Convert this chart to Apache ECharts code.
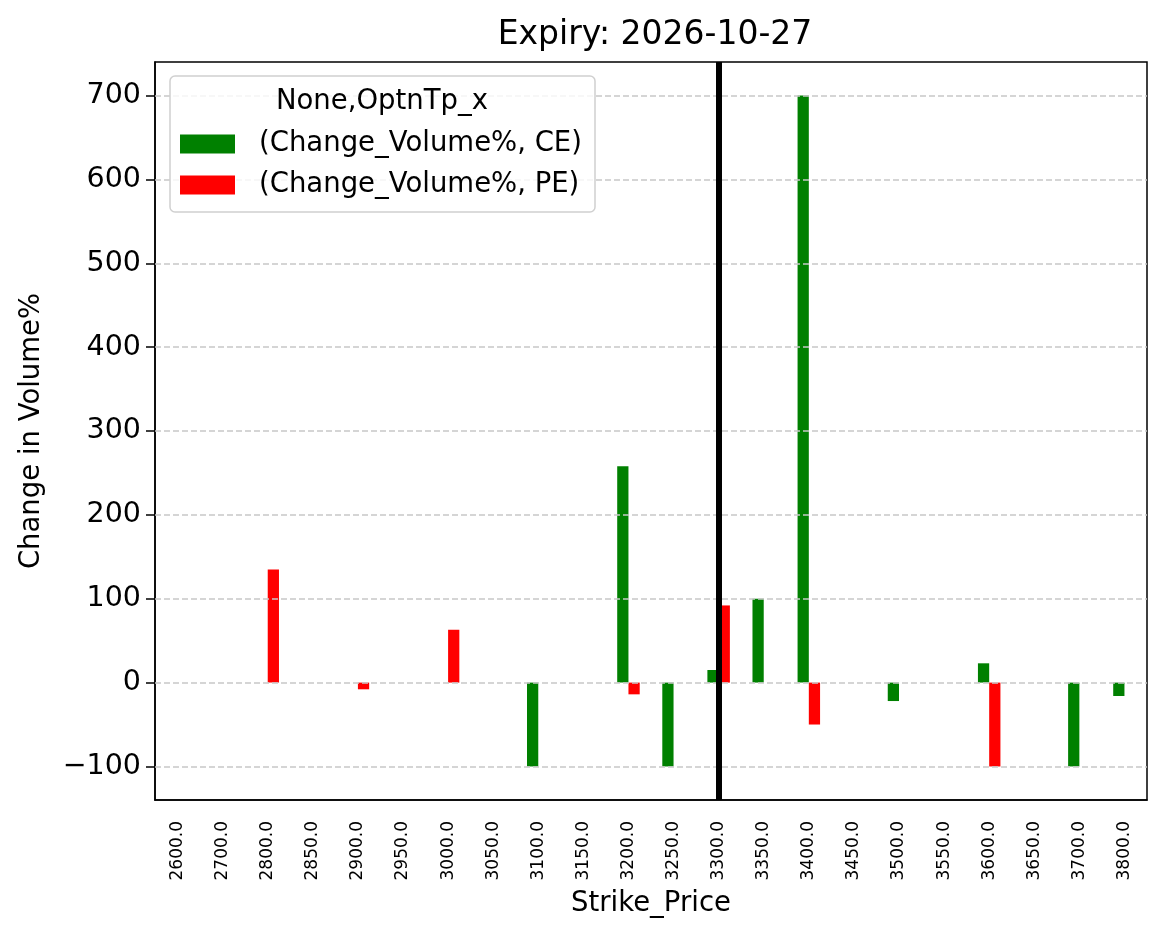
<!DOCTYPE html>
<html>
<head>
<meta charset="utf-8">
<title>Expiry: 2026-10-27</title>
<script src="https://cdn.jsdelivr.net/npm/echarts@6/dist/echarts.min.js"></script>
<style>
    html, body { margin: 0; padding: 0; background: #fff; }
    #chart { width: 1166px; height: 939px; }
</style>
</head>
<body>
<div id="chart"></div>
<script>
// 行权价（类目）
const strikes = [2600, 2700, 2800, 2850, 2900, 2950, 3000, 3050, 3100, 3150, 3200,
                 3250, 3300, 3350, 3400, 3450, 3500, 3550, 3600, 3650, 3700, 3800];

// 成交量变化% (CE / PE)
const ceChange = [null, null, null, null, null, null, null, null, -100, null, 258,
                  -100, 15, 100, 700, null, -22, null, 23, null, -100, -16];
const peChange = [null, null, 135, null, -8, null, 63, null, null, null, -14,
                  null, 92, null, -50, null, null, null, -100, null, null, null];

// y轴刻度
const yTicks = [-100, 0, 100, 200, 300, 400, 500, 600, 700];

// 当前价位
const spotStrike = 3300;

const FONT = 'DejaVu Sans';

const chart = echarts.init(document.getElementById('chart'));

const option = {
    animation: false,
    backgroundColor: '#fff',
    title: {
        text: 'Expiry: 2026-10-27',
        left: 650,
        textAlign: 'center',
        top: 14,
        textStyle: { fontFamily: FONT, fontSize: 33, fontWeight: 'normal', color: '#000' }
    },
    grid: {
        left: 155, right: 19, top: 62, bottom: 139,
        show: true, borderColor: '#000', borderWidth: 1.5
    },
    legend: {
        data: ['(Change_Volume%, CE)', '(Change_Volume%, PE)'],
        orient: 'vertical',
        left: 175,
        top: 125,
        itemWidth: 55,
        itemHeight: 19,
        itemGap: 13,
        icon: 'rect',
        z: 20,
        textStyle: { fontFamily: FONT, fontSize: 27.5, color: '#000', padding: [0, 0, 0, 19] }
    },
    graphic: [
        {
            type: 'rect',
            shape: { x: 170, y: 76, width: 425, height: 136, r: 5 },
            style: { fill: 'rgba(255,255,255,0.8)', stroke: '#d0d0d0', lineWidth: 1.5 },
            z: 10
        },
        {
            type: 'text',
            x: 382, y: 102,
            style: {
                text: 'None,OptnTp_x', fontFamily: FONT, fontSize: 27.5, fill: '#000',
                textAlign: 'center', textVerticalAlign: 'middle'
            },
            z: 11
        }
    ],
    xAxis: {
        type: 'category',
        data: strikes.map(s => s.toFixed(1)),
        boundaryGap: true,
        name: 'Strike_Price',
        nameLocation: 'middle',
        nameGap: 90,
        nameTextStyle: { fontFamily: FONT, fontSize: 27.5, color: '#000' },
        axisLine: { onZero: false, lineStyle: { color: '#000', width: 1.5 } },
        axisTick: { alignWithLabel: true, length: 9, lineStyle: { color: '#000', width: 1.5 } },
        axisLabel: { rotate: 90, fontFamily: FONT, fontSize: 17, color: '#000', margin: 21, interval: 0 },
        splitLine: { show: false }
    },
    yAxis: {
        type: 'value',
        min: -140,
        max: 740,
        name: 'Change in Volume%',
        nameLocation: 'middle',
        nameGap: 109,
        nameTextStyle: { fontFamily: FONT, fontSize: 27.5, color: '#000' },
        axisLine: { show: true, lineStyle: { color: '#000', width: 1.5 } },
        axisTick: { show: true, length: 9, customValues: yTicks, lineStyle: { color: '#000', width: 1.5 } },
        axisLabel: {
            fontFamily: FONT, fontSize: 28.5, color: '#000', margin: 14,
            customValues: yTicks,
            formatter: v => String(v).replace('-', '\u2212')
        },
        splitLine: { show: false }
    },
    series: [
        {
            // 网格线
            name: 'grid',
            type: 'line',
            data: [],
            z: 1,
            silent: true,
            markLine: {
                silent: true,
                symbol: 'none',
                label: { show: false },
                lineStyle: { color: '#c8c8c8', type: [6, 3], width: 1.5 },
                data: yTicks.map(v => ({ yAxis: v }))
            }
        },
        {
            name: '(Change_Volume%, CE)',
            type: 'bar',
            data: ceChange,
            barWidth: 11.25,
            barGap: '0%',
            itemStyle: { color: '#008000' },
            z: 3
        },
        {
            name: '(Change_Volume%, PE)',
            type: 'bar',
            data: peChange,
            barWidth: 11.25,
            barGap: '0%',
            itemStyle: { color: '#ff0000' },
            z: 3
        },
        {
            // 当前价位竖线
            name: 'spot',
            type: 'line',
            data: [],
            z: 6,
            silent: true,
            markLine: {
                silent: true,
                symbol: 'none',
                label: { show: false },
                lineStyle: { color: '#000', type: 'solid', width: 6 },
                data: [{ xAxis: spotStrike.toFixed(1) }]
            }
        }
    ]
};

chart.setOption(option);
</script>
</body>
</html>
